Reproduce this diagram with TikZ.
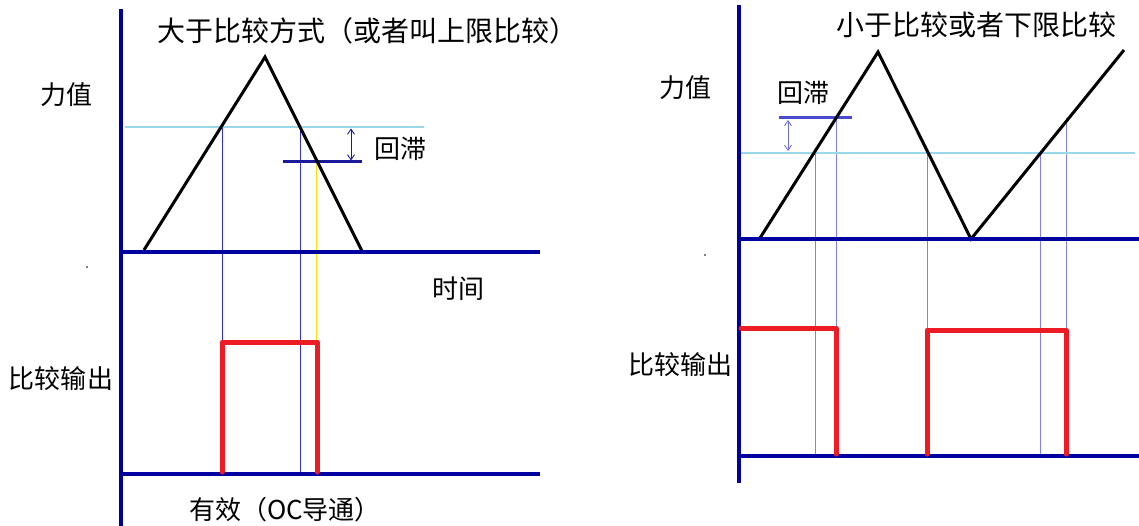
\documentclass[tikz,border=0pt]{standalone}
\usepackage{fontspec}
\setmainfont{Noto Sans CJK SC}
\usetikzlibrary{arrows.meta}
\definecolor{axisblue}{HTML}{0000A0}
\definecolor{thcyan}{HTML}{99D9EA}
\definecolor{outred}{HTML}{ED1C24}
\definecolor{guideblue}{HTML}{3030E0}
\definecolor{guidelight}{HTML}{8080F0}
\definecolor{hysblue}{HTML}{1A1A9A}
\definecolor{hysblue2}{HTML}{4A4AD0}
\definecolor{guideyellow}{HTML}{FFE000}
\tikzset{
  axisline/.style={draw=axisblue, line width=4pt},
  threshold/.style={draw=thcyan, line width=2.5pt},
  wave/.style={draw=black, line width=3pt, line join=miter},
  outline/.style={draw=outred, line width=5pt, line cap=round, line join=round},
  guide/.style={draw=guideblue, line width=0.9pt},
  guidel/.style={draw=guidelight, line width=1pt},
  hysline/.style={line width=3pt},
  hysarrow/.style={line width=0.9pt, {Straight Barb[length=5pt,width=7pt]}-{Straight Barb[length=5pt,width=7pt]}},
  lbl/.style={font=\fontsize{26}{26}\selectfont, inner sep=0pt},
  ttl/.style={font=\fontsize{28}{28}\selectfont, inner sep=0pt},
}
\begin{document}
\begin{tikzpicture}[x=1pt,y=-1pt]
\useasboundingbox[fill=white] (0,0) rectangle (1139,526);

% ---------------- left panel ----------------
\node[ttl] (ltitle) at (367,31) {大于比较方式（或者叫上限比较）};
\node[lbl] (lforce) at (66,95) {力值};
\node[lbl] (ltime) at (458,289) {时间};
\node[lbl] (lout) at (61,379) {比较输出};
\node[lbl] (lvalid) at (285,510) {有效（OC导通）};
\node[lbl] (lhys) at (400,149) {回滞};
\fill (87,267) circle (0.9pt);

% guide lines
\draw[guide] (222,127) -- (222,342);
\draw[guide] (300,127) -- (300,474);
\draw[draw=guideyellow, line width=1pt] (316,162) -- (316,342);
% threshold
\draw[threshold] (125,127) -- (424,127);
% hysteresis
\draw[hysline, draw=hysblue] (283,162) -- (362,162);
\draw[hysarrow, draw=hysblue] (351,128.5) -- (351,160.5);
% waveform
\draw[wave] (144,250) -- (265,57) -- (362,251);
% axes
\draw[axisline] (121,9) -- (121,526);
\draw[axisline] (121,252) -- (540,252);
\draw[axisline] (121,474) -- (540,474);
% output
\draw[outline] (222,472) -- (222,342) -- (317,342) -- (317,472);

% ---------------- right panel ----------------
\node[ttl] (rtitle) at (976,25) {小于比较或者下限比较};
\node[lbl] (rforce) at (685,88) {力值};
\node[lbl] (rhys) at (803,93) {回滞};
\node[lbl] (rout) at (680,365) {比较输出};
\fill (705,255) circle (0.9pt);

% guide lines
\draw[guidel] (815,153) -- (815,456);
\draw[guidel] (836,118) -- (836,328);
\draw[guidel] (927,153) -- (927,330);
\draw[guidel] (1040,153) -- (1040,456);
\draw[guidel] (1066,118) -- (1066,330);
% threshold
\draw[threshold] (741,153) -- (1135,153);
% hysteresis
\draw[hysline, draw=hysblue2] (779,118) -- (852,118);
\draw[hysarrow, draw=hysblue2!80] (788,120) -- (788,151);
% waveform
\draw[wave] (760,238) -- (878,52) -- (971,239) -- (1124,50);
% axes
\draw[axisline] (739,5) -- (739,483);
\draw[axisline] (739,239) -- (1139,239);
\draw[axisline] (739,456) -- (1139,456);
% output
\draw[outline] (741,328) -- (836,328) -- (836,454);
\draw[outline] (927,454) -- (927,330) -- (1066,330) -- (1066,454);
\end{tikzpicture}
\end{document}
